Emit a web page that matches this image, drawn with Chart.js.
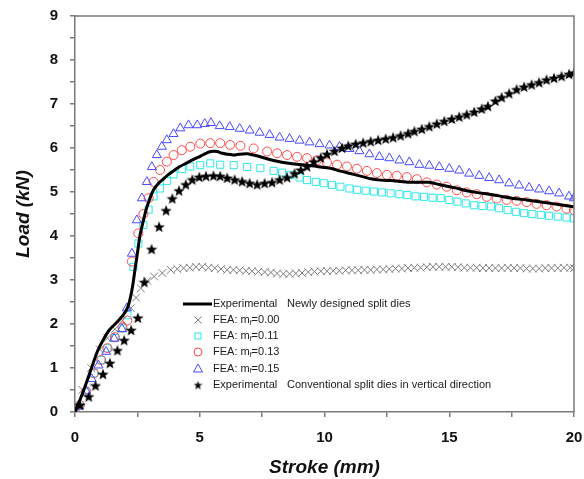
<!DOCTYPE html>
<html>
<head>
<meta charset="utf-8">
<script src="https://cdn.jsdelivr.net/npm/chart.js@4/dist/chart.umd.min.js"></script>
<style>
  html, body { margin: 0; padding: 0; background: #fff; }
  #loadChart { display: block; }
</style>
</head>
<body>
<canvas id="loadChart" width="584" height="479"></canvas>
<script>
// stroke (mm) / load (kN) pairs
const newlyDesignedExp = [[0,0],[0.3,0.42],[0.63,0.95],[0.9,1.38],[1.15,1.66],[1.4,1.88],[1.7,2.05],[1.95,2.22],[2.1,2.36],[2.22,2.6],[2.32,2.9],[2.42,3.3],[2.5,3.6],[2.6,4.0],[2.72,4.3],[2.85,4.6],[3.0,4.85],[3.15,5.05],[3.35,5.2],[3.55,5.3],[3.75,5.4],[3.95,5.48],[4.2,5.58],[4.48,5.66],[4.75,5.74],[5.02,5.81],[5.25,5.88],[5.45,5.92],[5.7,5.92],[5.9,5.88],[6.1,5.86],[6.36,5.84],[6.6,5.86],[6.9,5.87],[7.15,5.84],[7.43,5.8],[7.8,5.74],[8.1,5.7],[8.5,5.66],[8.9,5.63],[9.3,5.61],[9.7,5.58],[10.24,5.54],[10.6,5.48],[11.04,5.42],[11.45,5.36],[11.85,5.3],[12.25,5.27],[12.65,5.26],[13.05,5.24],[13.45,5.22],[14.2,5.22],[14.6,5.17],[15.2,5.1],[15.7,5.03],[16.2,4.98],[16.6,4.95],[17.1,4.9],[17.6,4.85],[18.1,4.82],[18.6,4.78],[19.2,4.73],[19.6,4.7],[20,4.66]];

const feaM000 = [[0,0],[0.3,0.5],[0.65,1.0],[1.0,1.42],[1.3,1.68],[1.6,1.88],[1.9,2.08],[2.24,2.36],[2.45,2.6],[2.64,2.81],[2.9,2.98],[3.17,3.08],[3.5,3.16],[3.84,3.23],[4.1,3.25],[4.35,3.27],[4.6,3.28],[4.85,3.3],[5.1,3.3],[5.35,3.28],[5.6,3.27],[5.85,3.25],[6.1,3.23],[6.35,3.23],[6.6,3.22],[6.85,3.21],[7.1,3.2],[7.35,3.19],[7.6,3.18],[7.85,3.17],[8.1,3.15],[8.35,3.14],[8.6,3.14],[8.85,3.15],[9.1,3.16],[9.35,3.18],[9.6,3.19],[9.85,3.2],[10.1,3.2],[10.35,3.21],[10.6,3.21],[10.85,3.22],[11.1,3.22],[11.35,3.22],[11.6,3.23],[11.85,3.23],[12.1,3.24],[12.35,3.24],[12.6,3.25],[12.85,3.26],[13.1,3.26],[13.35,3.27],[13.6,3.28],[13.85,3.28],[14.1,3.29],[14.35,3.3],[14.6,3.3],[14.85,3.3],[15.1,3.3],[15.35,3.29],[15.6,3.28],[15.85,3.28],[16.1,3.28],[16.35,3.27],[16.6,3.27],[16.85,3.27],[17.1,3.27],[17.35,3.28],[17.6,3.27],[17.85,3.27],[18.1,3.26],[18.35,3.26],[18.6,3.26],[18.85,3.27],[19.1,3.27],[19.35,3.27],[19.6,3.28],[19.85,3.28],[20,3.27]];

const feaM011 = [[0,0],[0.2,0.15],[0.45,0.45],[0.76,0.88],[1.05,1.18],[1.3,1.45],[1.6,1.68],[1.9,1.9],[2.1,2.2],[2.34,3.3],[2.54,3.83],[2.74,4.25],[2.95,4.6],[3.15,4.9],[3.41,5.08],[3.68,5.25],[3.95,5.4],[4.28,5.52],[4.62,5.58],[5.02,5.61],[5.42,5.65],[5.82,5.62],[6.36,5.61],[6.9,5.57],[7.43,5.54],[7.96,5.48],[8.3,5.44],[8.63,5.39],[9.0,5.33],[9.3,5.27],[9.65,5.23],[9.97,5.2],[10.3,5.16],[10.64,5.12],[11.0,5.08],[11.31,5.05],[11.65,5.03],[11.98,5.01],[12.3,4.99],[12.65,4.97],[13.0,4.95],[13.32,4.93],[13.65,4.9],[13.99,4.89],[14.33,4.87],[14.66,4.86],[15.0,4.82],[15.33,4.78],[15.66,4.74],[16.0,4.7],[16.33,4.68],[16.67,4.67],[17.0,4.63],[17.34,4.59],[17.67,4.55],[18.0,4.52],[18.33,4.5],[18.67,4.48],[19.0,4.46],[19.35,4.44],[19.7,4.42],[20,4.4]];

const feaM013 = [[0,0],[0.2,0.16],[0.45,0.47],[0.76,0.88],[1.05,1.18],[1.3,1.45],[1.6,1.7],[1.9,1.92],[2.1,2.08],[2.28,3.42],[2.54,4.06],[2.74,4.5],[2.95,4.86],[3.15,5.23],[3.41,5.5],[3.68,5.69],[3.95,5.84],[4.28,5.95],[4.62,6.03],[5.02,6.1],[5.42,6.11],[5.82,6.11],[6.22,6.07],[6.63,6.05],[7.16,5.99],[7.7,5.92],[8.1,5.88],[8.5,5.84],[8.9,5.8],[9.3,5.77],[9.7,5.72],[10.1,5.67],[10.5,5.62],[10.9,5.58],[11.3,5.53],[11.7,5.48],[12.1,5.43],[12.5,5.39],[12.9,5.37],[13.3,5.34],[13.7,5.29],[14.1,5.22],[14.5,5.17],[14.9,5.12],[15.3,5.04],[15.7,4.99],[16.1,4.95],[16.5,4.89],[16.9,4.85],[17.3,4.82],[17.7,4.8],[18.1,4.77],[18.5,4.73],[18.9,4.7],[19.3,4.67],[19.7,4.62],[20,4.59]];

const feaM015 = [[0,0],[0.16,0.13],[0.45,0.47],[0.67,0.75],[0.94,1.06],[1.25,1.37],[1.57,1.67],[1.88,1.89],[2.08,2.36],[2.28,3.6],[2.48,4.36],[2.68,4.86],[2.88,5.23],[3.08,5.57],[3.28,5.84],[3.48,6.03],[3.68,6.18],[3.95,6.32],[4.22,6.45],[4.55,6.52],[4.9,6.52],[5.2,6.55],[5.45,6.57],[5.8,6.5],[6.2,6.48],[6.6,6.44],[7.0,6.4],[7.4,6.35],[7.8,6.3],[8.2,6.24],[8.6,6.21],[9.0,6.17],[9.4,6.13],[9.8,6.09],[10.2,6.06],[10.6,6.03],[11.0,5.98],[11.4,5.93],[11.8,5.86],[12.2,5.8],[12.6,5.77],[13.0,5.72],[13.4,5.68],[13.8,5.62],[14.2,5.6],[14.6,5.57],[15.0,5.53],[15.4,5.49],[15.8,5.42],[16.2,5.37],[16.6,5.32],[17.0,5.27],[17.4,5.2],[17.8,5.15],[18.2,5.1],[18.6,5.06],[19.0,5.02],[19.4,4.97],[19.8,4.9],[20,4.86]];

const conventionalExp = [[0.2,0.16],[0.55,0.35],[0.82,0.6],[1.12,0.86],[1.4,1.11],[1.7,1.4],[1.97,1.63],[2.25,1.86],[2.52,2.14],[2.78,2.95],[3.07,3.7],[3.37,4.21],[3.65,4.58],[3.9,4.85],[4.17,5.03],[4.44,5.17],[4.7,5.28],[4.98,5.34],[5.25,5.36],[5.55,5.37],[5.82,5.36],[6.1,5.32],[6.4,5.28],[6.7,5.24],[7.0,5.2],[7.3,5.17],[7.6,5.2],[7.9,5.22],[8.2,5.28],[8.5,5.33],[8.8,5.42],[9.05,5.5],[9.3,5.58],[9.57,5.69],[9.85,5.78],[10.1,5.86],[10.4,5.93],[10.7,6.0],[10.95,6.05],[11.25,6.09],[11.55,6.12],[11.85,6.15],[12.15,6.18],[12.45,6.21],[12.75,6.24],[13.05,6.28],[13.35,6.33],[13.6,6.38],[13.9,6.43],[14.2,6.49],[14.5,6.55],[14.8,6.61],[15.1,6.66],[15.4,6.71],[15.7,6.76],[16.0,6.82],[16.3,6.89],[16.55,6.95],[16.85,7.07],[17.1,7.15],[17.4,7.24],[17.7,7.33],[18.0,7.39],[18.3,7.44],[18.6,7.49],[18.9,7.55],[19.2,7.59],[19.5,7.63],[19.8,7.68],[20,7.71]];

const frictionFactors = ['0.00', '0.11', '0.13', '0.15'];
const expLabels = ['Newly designed split dies', 'Conventional split dies in vertical direction'];

const FONT = '"Liberation Sans", Arial, sans-serif';
const AXIS_GREY = '#7a7a7a';
const COLORS = { cross: '#7c7c7c', square: '#2ee8e8', circle: '#ff4a4a', triangle: '#4848ff', star: '#000' };

// filled five-pointed star used as a point style
function makeStar(size, color) {
  const c = document.createElement('canvas');
  c.width = size; c.height = size;
  const g = c.getContext('2d');
  const cx = size / 2, cy = size / 2 + 0.5, outer = size / 2, inner = outer * 0.42;
  g.beginPath();
  for (let i = 0; i < 10; i++) {
    const r = i % 2 ? inner : outer;
    const a = -Math.PI / 2 + i * Math.PI / 5;
    g.lineTo(cx + r * Math.cos(a), cy + r * Math.sin(a));
  }
  g.closePath();
  g.fillStyle = color;
  g.fill();
  return c;
}
const starImg = makeStar(12, COLORS.star);
const starSmall = makeStar(9, COLORS.star);

const toXY = pts => pts.map(([x, y]) => ({ x, y }));

function markerSet(label, pts, style, color, radius, order) {
  return {
    label, data: toXY(pts), showLine: false,
    pointStyle: style, pointRadius: radius, pointHoverRadius: radius,
    borderColor: color, backgroundColor: 'rgba(0,0,0,0)', pointBorderWidth: 1,
    order
  };
}

// small legend symbols
function drawSymbol(ctx, kind, x, y) {
  ctx.save();
  ctx.lineWidth = 1;
  ctx.beginPath();
  if (kind === 'line') {
    ctx.strokeStyle = '#000'; ctx.lineWidth = 3;
    ctx.moveTo(x - 15, y); ctx.lineTo(x + 14, y); ctx.stroke();
  } else if (kind === 'cross') {
    ctx.strokeStyle = COLORS.cross;
    ctx.moveTo(x - 3.5, y - 3.5); ctx.lineTo(x + 3.5, y + 3.5);
    ctx.moveTo(x + 3.5, y - 3.5); ctx.lineTo(x - 3.5, y + 3.5); ctx.stroke();
  } else if (kind === 'square') {
    ctx.strokeStyle = COLORS.square; ctx.strokeRect(x - 3, y - 3, 6, 6);
  } else if (kind === 'circle') {
    ctx.strokeStyle = COLORS.circle; ctx.arc(x, y, 4, 0, Math.PI * 2); ctx.stroke();
  } else if (kind === 'triangle') {
    ctx.strokeStyle = COLORS.triangle;
    ctx.moveTo(x, y - 4.5); ctx.lineTo(x + 4.5, y + 3.5); ctx.lineTo(x - 4.5, y + 3.5); ctx.closePath(); ctx.stroke();
  } else if (kind === 'star') {
    ctx.drawImage(starSmall, x - 4.5, y - 4.5);
  }
  ctx.restore();
}

const framePlugin = {
  id: 'frameAndLegend',
  afterDatasetsDraw(chart) {
    const { ctx, chartArea: a } = chart;
    ctx.save();
    ctx.strokeStyle = AXIS_GREY;
    ctx.lineWidth = 1.5;
    ctx.beginPath();
    ctx.moveTo(a.left, a.top); ctx.lineTo(a.right, a.top); ctx.lineTo(a.right, a.bottom);
    ctx.stroke();

    // legend
    const symX = 198, col1 = 213, col2 = 287, rowY = [304, 320, 336, 352, 368.5, 385];
    ctx.fillStyle = '#1a1a1a';
    ctx.textBaseline = 'middle';
    const f = '11px ' + FONT;
    ctx.font = f;
    drawSymbol(ctx, 'line', symX, rowY[0]);
    ctx.fillText('Experimental', col1, rowY[0]);
    ctx.fillText(expLabels[0], col2, rowY[0]);
    ['cross', 'square', 'circle', 'triangle'].forEach((kind, i) => {
      const y = rowY[i + 1];
      drawSymbol(ctx, kind, symX, y);
      ctx.font = f;
      ctx.fillText('FEA: m', col1, y);
      let w = ctx.measureText('FEA: m').width;
      ctx.font = '7px ' + FONT;
      ctx.fillText('f', col1 + w, y + 3);
      w += ctx.measureText('f').width;
      ctx.font = f;
      ctx.fillText('=' + frictionFactors[i], col1 + w, y);
    });
    drawSymbol(ctx, 'star', symX, rowY[5]);
    ctx.fillText('Experimental', col1, rowY[5]);
    ctx.fillText(expLabels[1], col2, rowY[5]);
    ctx.restore();
  }
};

const tickFont = { family: FONT, size: 15, weight: 'bold' };
const titleFont = { family: FONT, size: 19, weight: 'bold', style: 'italic' };

new Chart(document.getElementById('loadChart'), {
  type: 'scatter',
  data: {
    datasets: [
      markerSet('FEA: mf=0.00', feaM000, 'crossRot', COLORS.cross, 5.5, 6),
      markerSet('FEA: mf=0.11', feaM011, 'rect', COLORS.square, 5, 5),
      markerSet('FEA: mf=0.13', feaM013, 'circle', COLORS.circle, 4.5, 4),
      markerSet('FEA: mf=0.15', feaM015, 'triangle', COLORS.triangle, 5.2, 3),
      {
        label: 'Experimental ' + expLabels[0], data: toXY(newlyDesignedExp),
        showLine: true, borderColor: '#000', borderWidth: 3, pointRadius: 0,
        tension: 0.2, order: 2
      },
      markerSet('Experimental ' + expLabels[1], conventionalExp, starImg, COLORS.star, 6, 1)
    ]
  },
  options: {
    responsive: false,
    animation: false,
    layout: { padding: { top: 16, right: 10, left: 0, bottom: 0 } },
    plugins: { legend: { display: false }, tooltip: { enabled: false } },
    scales: {
      x: {
        type: 'linear', min: 0, max: 20,
        border: { color: AXIS_GREY, width: 1.5 },
        grid: { drawOnChartArea: false, drawTicks: true, tickLength: 5, color: AXIS_GREY, lineWidth: 1.5 },
        ticks: {
          stepSize: 2.5, autoSkip: false, maxRotation: 0, padding: 12,
          color: '#111', font: tickFont,
          callback: v => (v % 5 === 0 ? v : '')
        },
        title: { display: true, text: 'Stroke (mm)', color: '#111', font: titleFont, padding: { top: 0, bottom: 0 } },
        // fixed band below the plot; end labels may overhang the edges
        afterFit: s => { s.height = 67; s.paddingLeft = 0; s.paddingRight = 0; }
      },
      y: {
        type: 'linear', min: 0, max: 9,
        border: { color: AXIS_GREY, width: 1.5 },
        grid: { drawOnChartArea: false, drawTicks: true, tickLength: 5, color: AXIS_GREY, lineWidth: 1.5 },
        ticks: {
          stepSize: 0.5, autoSkip: false, padding: 12,
          color: '#111', font: tickFont,
          callback: v => (Number.isInteger(v) ? v : '')
        },
        title: { display: true, text: 'Load (kN)', color: '#111', font: titleFont, padding: { top: 12, bottom: 0 } },
        afterFit: s => { s.width = 75; s.paddingTop = 0; s.paddingBottom = 0; }
      }
    }
  },
  plugins: [framePlugin]
});
</script>
</body>
</html>
